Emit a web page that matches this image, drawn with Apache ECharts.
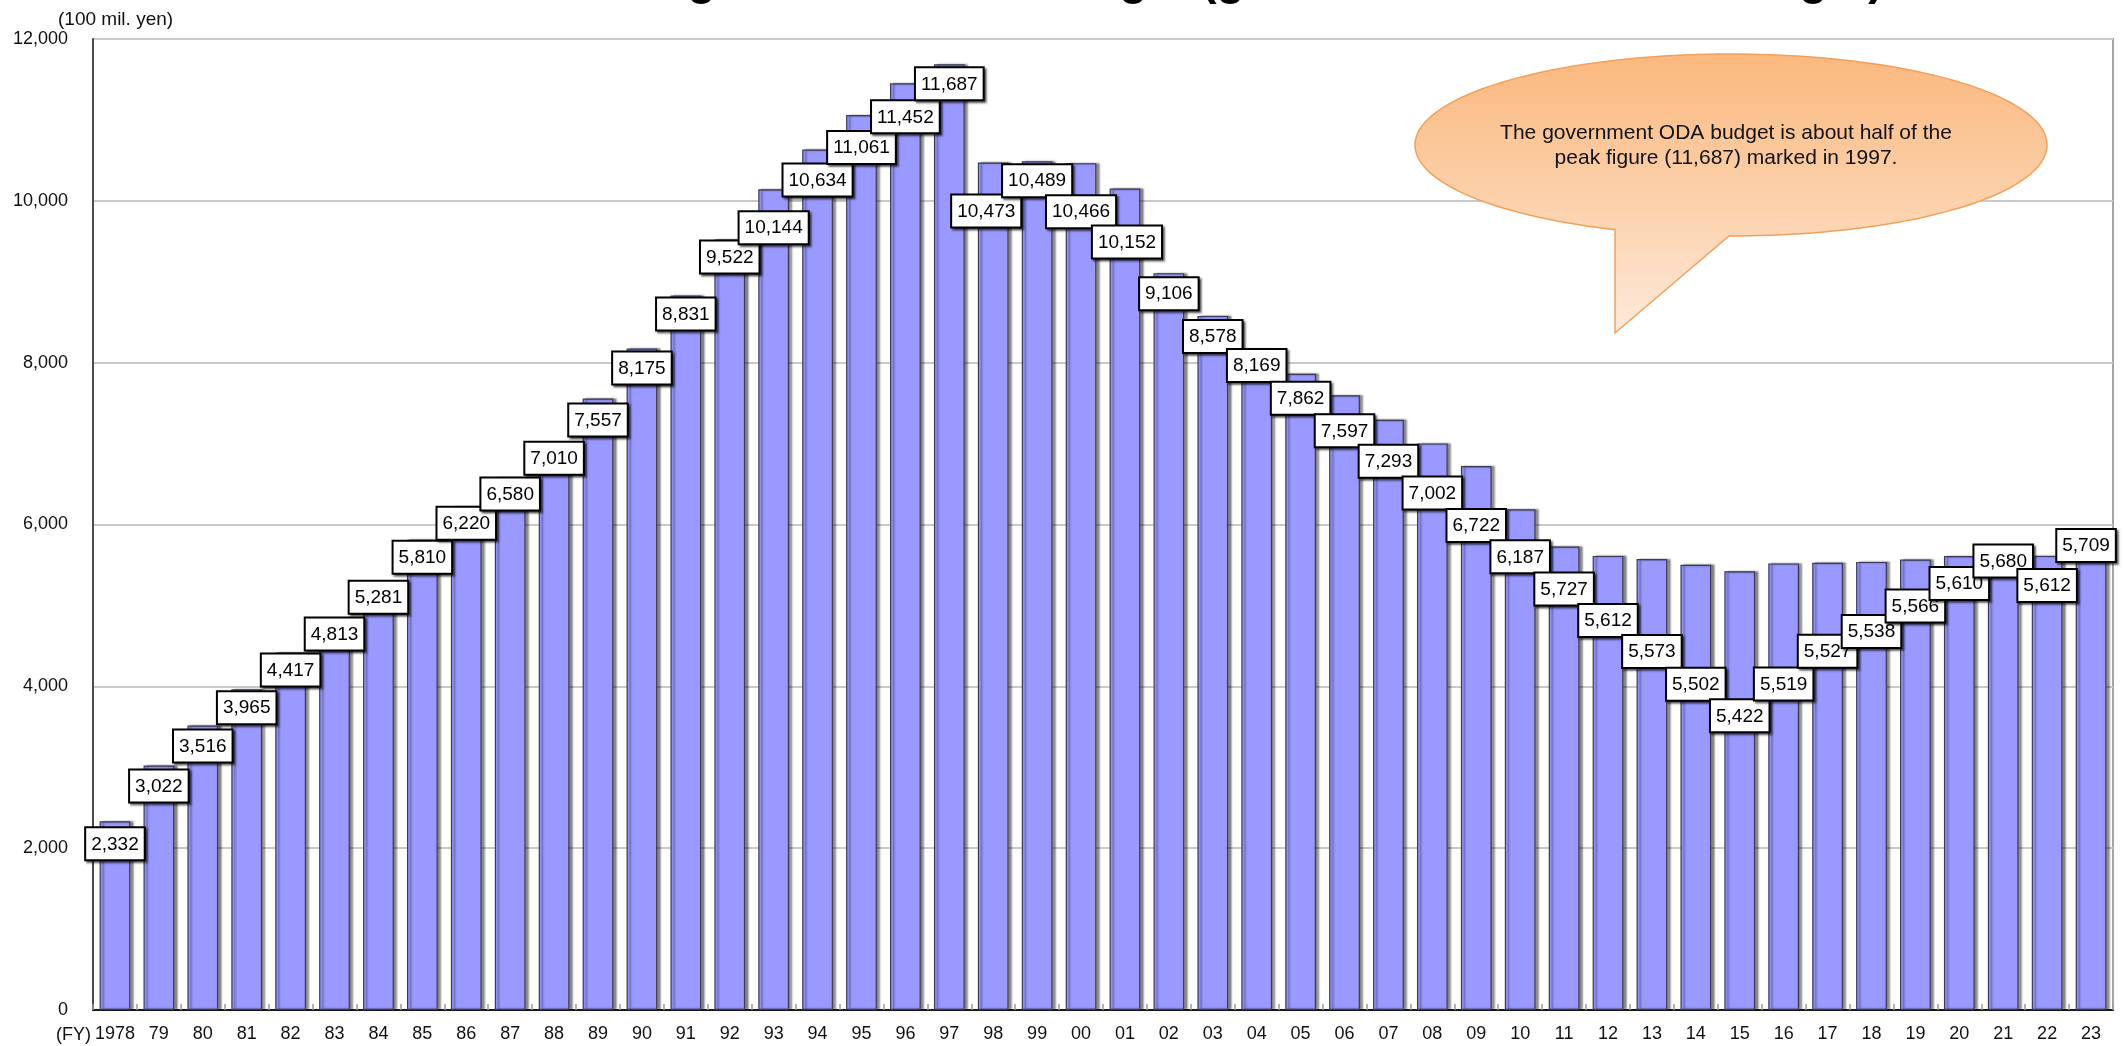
<!DOCTYPE html>
<html>
<head>
<meta charset="utf-8">
<title>ODA Budget</title>
<script src="https://cdn.jsdelivr.net/npm/echarts@6/dist/echarts.min.js"></script>
<style>
  html, body { margin: 0; padding: 0; background: #ffffff; }
  #chart { width: 2123px; height: 1046px; }
</style>
</head>
<body>
<div id="chart"></div>
<script>
// Fiscal years (axis tick labels) and the ODA budget for each year, in 100 million yen
const fiscalYears = ['1978', '79', '80', '81', '82', '83', '84', '85', '86', '87',
  '88', '89', '90', '91', '92', '93', '94', '95', '96', '97',
  '98', '99', '00', '01', '02', '03', '04', '05', '06', '07',
  '08', '09', '10', '11', '12', '13', '14', '15', '16', '17',
  '18', '19', '20', '21', '22', '23'];

const odaBudget = [2332, 3022, 3516, 3965, 4417, 4813, 5281, 5810, 6220, 6580,
  7010, 7557, 8175, 8831, 9522, 10144, 10634, 11061, 11452, 11687,
  10473, 10489, 10466, 10152, 9106, 8578, 8169, 7862, 7597, 7293,
  7002, 6722, 6187, 5727, 5612, 5573, 5502, 5422, 5519, 5527,
  5538, 5566, 5610, 5680, 5612, 5709];

// Value axis ticks
const yMin = 0;
const yMax = 12000;
const yStep = 2000;

// Label placement: how far (px) each value box's centre sits below the top of its bar,
// and a small sideways nudge, so that neighbouring boxes do not collide.
const labelDrop = [23, 21, 21, 19, 18, 14, 15, 18, 17, 17,
  16, 22, 20, 19, 18, 39, 31, 33, 34, 20,
  49, 20, 49, 54, 21, 21, 17, 25, 36, 42,
  50, 60, 48, 43, 65, 93, 120, 145, 121, 89,
  70, 47, 28, 11, 30, -2];
const labelShift = [0, 0, 0, 0, 0, 0, 0, 0, 0, 0,
  0, 0, 0, 0, 0, 0, 0, 0, 0, 0,
  -7, 0, 0, 2, 0, 0, 0, 0, 0, 0,
  0, 0, 0, 0, 0, 0, 0, 0, 0, 0,
  0, 0, 0, 0, 0, -5];

const FONT = "'Liberation Sans', Arial, Helvetica, sans-serif";
const withCommas = v => Number(v).toLocaleString('en-US');

// Speech-bubble outline: an ellipse whose lower edge opens into a pointed tail.
// Angles use screen coordinates (y down): point = (cx + rx cos a, cy + ry sin a).
function bubbleOutline(cx, cy, rx, ry, baseLeftX, baseRightX, tip) {
  const aRight = Math.acos((baseRightX - cx) / rx);
  const aLeft = Math.acos((baseLeftX - cx) / rx);
  const sweep = 2 * Math.PI - (aLeft - aRight); // the long way round, over the top
  const steps = 180;
  const pts = [];
  for (let k = 0; k <= steps; k++) {
    const a = aRight - sweep * k / steps;
    pts.push([cx + rx * Math.cos(a), cy + ry * Math.sin(a)]);
  }
  pts.push(tip);
  return pts;
}

const chart = echarts.init(document.getElementById('chart'), null, { renderer: 'canvas' });

const bubbleFill = new echarts.graphic.LinearGradient(0, 0, 0, 1, [
  { offset: 0, color: '#fbb87e' },
  { offset: 0.55, color: '#fcd2ad' },
  { offset: 1, color: '#fdeadb' }
]);

const option = {
  backgroundColor: '#ffffff',
  animation: false,
  textStyle: { fontFamily: FONT },
  grid: {
    left: 93, right: 10, top: 39, bottom: 36,
    show: true,
    borderColor: '#a4a4a4',
    borderWidth: 2,
    outerBoundsMode: 'none'
  },
  xAxis: {
    type: 'category',
    data: fiscalYears,
    boundaryGap: true,
    axisLine: { show: true, lineStyle: { color: '#1a1a1a', width: 2 } },
    axisTick: { show: true, inside: true, length: 6, interval: 0, lineStyle: { color: '#9a9a9a', width: 1.5 } },
    axisLabel: { interval: 0, fontSize: 18, color: '#111111', margin: 15, fontFamily: FONT },
    splitLine: { show: false }
  },
  yAxis: {
    type: 'value',
    min: yMin, max: yMax, interval: yStep,
    axisLine: { show: true, lineStyle: { color: '#4a4a4a', width: 2 } },
    axisTick: { show: false },
    axisLabel: { fontSize: 18, color: '#111111', margin: 25, fontFamily: FONT, formatter: withCommas },
    splitLine: { show: true, lineStyle: { color: '#c9c9c9', width: 2 } }
  },
  series: [{
    type: 'bar',
    barCategoryGap: '30%',
    itemStyle: {
      color: '#9999ff',
      borderColor: '#3a3a55',
      borderWidth: 1.2,
      shadowColor: 'rgba(0,0,0,0.45)',
      shadowBlur: 2,
      shadowOffsetX: 3,
      shadowOffsetY: 0
    },
    label: {
      show: true,
      position: 'insideTop',
      distance: 0,
      formatter: p => withCommas(p.value),
      fontFamily: FONT,
      fontSize: 19,
      lineHeight: 22,
      color: '#000000',
      backgroundColor: '#ffffff',
      borderColor: '#000000',
      borderWidth: 2,
      padding: [5, 5, 4, 5],
      shadowColor: 'rgba(0,0,0,0.55)',
      shadowBlur: 2,
      shadowOffsetX: 2,
      shadowOffsetY: 2
    },
    data: odaBudget.map((v, i) => ({
      value: v,
      label: { offset: [labelShift[i], labelDrop[i] - 16] }
    }))
  }],
  graphic: [
    // Chart title, sitting mostly above the top edge of the page
    {
      type: 'text', z: 100, x: 1228, y: -19,
      style: {
        text: 'Changes in the ODA Budget (general account initial budget)',
        font: 'bold 46px ' + FONT, fill: '#000000',
        align: 'center', verticalAlign: 'middle'
      }
    },
    // Unit of the value axis
    {
      type: 'text', z: 100, x: 58, y: 20,
      style: { text: '(100 mil. yen)', font: '19px ' + FONT, fill: '#111111', align: 'left', verticalAlign: 'middle' }
    },
    // Fiscal-year marker beside the first category label
    {
      type: 'text', z: 100, x: 91, y: 1035,
      style: { text: '(FY)', font: '18px ' + FONT, fill: '#111111', align: 'right', verticalAlign: 'middle' }
    },
    // Speech-bubble callout
    {
      type: 'polygon', z: 100,
      shape: { points: bubbleOutline(1731, 145, 316, 91, 1615, 1729, [1615, 333]) },
      style: { fill: bubbleFill, stroke: '#f2a05c', lineWidth: 1.5 }
    },
    {
      type: 'text', z: 101, x: 1726, y: 133,
      style: {
        text: 'The government ODA budget is about half of the',
        font: '21px ' + FONT, fill: '#111111', align: 'center', verticalAlign: 'middle'
      }
    },
    {
      type: 'text', z: 101, x: 1726, y: 158,
      style: {
        text: 'peak figure (11,687) marked in 1997.',
        font: '21px ' + FONT, fill: '#111111', align: 'center', verticalAlign: 'middle'
      }
    }
  ]
};

chart.setOption(option);
</script>
</body>
</html>
